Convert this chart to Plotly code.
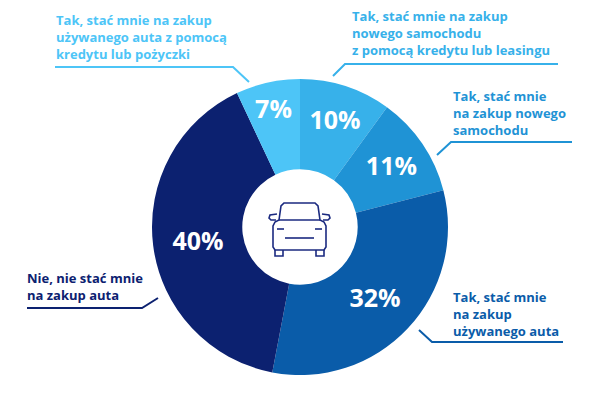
import plotly.graph_objects as go

W, H = 600, 400

categories = [
    "Tak, stać mnie na zakup nowego samochodu z pomocą kredytu lub leasingu",
    "Tak, stać mnie na zakup nowego samochodu",
    "Tak, stać mnie na zakup używanego auta",
    "Nie, nie stać mnie na zakup auta",
    "Tak, stać mnie na zakup używanego auta z pomocą kredytu lub pożyczki",
]
values = [10, 11, 32, 40, 7]
label_texts = [
    "Tak, stać mnie na zakup<br>nowego samochodu<br>z pomocą kredytu lub leasingu",
    "Tak, stać mnie<br>na zakup nowego<br>samochodu",
    "Tak, stać mnie<br>na zakup<br>używanego auta",
    "Nie, nie stać mnie<br>na zakup auta",
    "Tak, stać mnie na zakup<br>używanego auta z pomocą<br>kredytu lub pożyczki",
]
colors = ["#37b1ea", "#1f93d5", "#0a5ca9", "#0c2170", "#4dc5f7"]

FONT = "Open Sans"

# pixel helpers (paper coords, zero margins)
def px(x):
    return x / W

def py(y):
    return 1 - y / H

cx, cy, R = 300, 227, 148

fig = go.Figure()
fig.add_trace(go.Pie(
    values=values,
    labels=categories,
    sort=False,
    direction="clockwise",
    rotation=0,
    hole=0.39,
    marker=dict(colors=colors, line=dict(width=0)),
    texttemplate="%{value}%",
    textposition="inside",
    insidetextorientation="horizontal",
    textfont=dict(family=FONT, size=25, color="white", weight=700),
    hoverinfo="label+percent",
    showlegend=False,
    domain=dict(x=[px(cx - R), px(cx + R)], y=[py(cy + R), py(cy - R)]),
))

# label annotation anchors (pixel) and leader lines
label_pos = [(350, 33), (451, 113), (451, 314), (25, 286), (54, 37)]
leaders = [
    [(333, 76), (345, 64), (558, 64)],
    [(437, 155), (451, 142), (572, 142)],
    [(419, 330), (432, 342), (563, 342)],
    [(27, 308), (142, 308), (158, 298)],
    [(55, 67), (233, 67), (249, 82)],
]

shapes = []
annotations = []
for txt, (x, y), col, pts in zip(label_texts, label_pos, colors, leaders):
    annotations.append(dict(
        x=px(x), y=py(y), xref="paper", yref="paper",
        xanchor="left", yanchor="middle", align="left",
        text=txt, showarrow=False,
        font=dict(family=FONT, size=13, color=col, weight=700),
    ))
    path = "M " + " L ".join(f"{px(a)},{py(b)}" for a, b in pts)
    shapes.append(dict(type="path", xref="paper", yref="paper", path=path,
                       line=dict(color=col, width=2)))

# car icon in the centre
icon = "#1b2a80"
def pp(points, close=False):
    s = "M " + " L ".join(f"{px(a)},{py(b)}" for a, b in points)
    return s + (" Z" if close else "")

car_paths = [
    # body outline
    pp([(279, 220), (281, 206), (284, 203), (315, 203), (318, 206), (320, 220),
        (324, 222), (326, 226), (326, 247), (324, 250), (275, 250), (273, 247),
        (273, 226), (275, 222)], close=True),
    # roof/windshield line
    pp([(279, 220), (320, 220)]),
    # mirrors
    pp([(277, 214), (270, 215), (269, 218), (271, 220), (276, 220)]),
    pp([(322, 214), (329, 215), (330, 218), (328, 220), (323, 220)]),
    # wheels
    pp([(275, 250), (275, 256), (283, 256), (283, 250)]),
    pp([(316, 250), (316, 256), (324, 256), (324, 250)]),
    # lights
    pp([(277, 229), (284, 229)]),
    pp([(315, 229), (322, 229)]),
    # grille
    pp([(285, 238), (314, 238)]),
]
for p in car_paths:
    shapes.append(dict(type="path", xref="paper", yref="paper", path=p,
                       line=dict(color=icon, width=1.6)))

fig.update_layout(
    width=W, height=H,
    margin=dict(l=0, r=0, t=0, b=0),
    paper_bgcolor="white", plot_bgcolor="white",
    shapes=shapes, annotations=annotations,
    font=dict(family=FONT),
)

fig.write_html(
    "out.html",
    config={"displayModeBar": False},
    post_script="document.body.style.margin='0';document.body.style.overflow='hidden';",
)
